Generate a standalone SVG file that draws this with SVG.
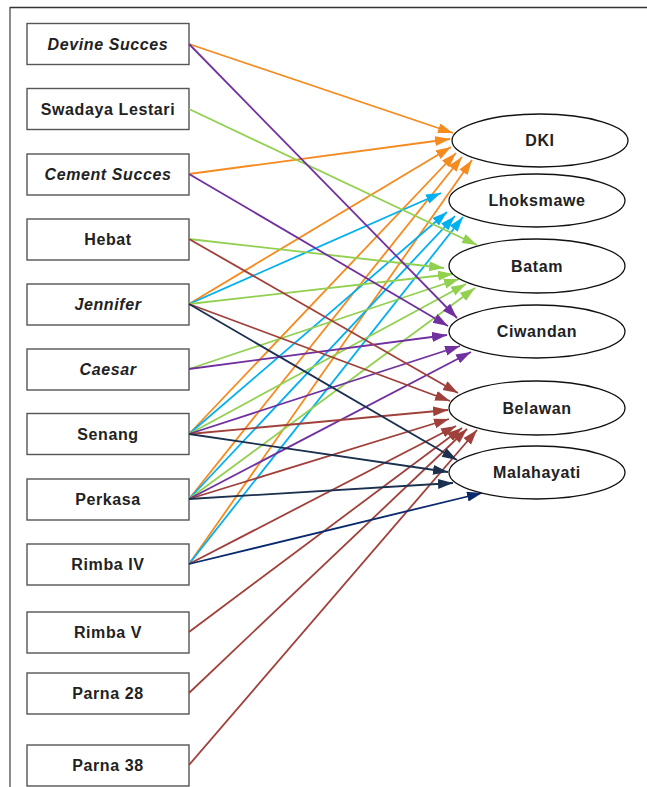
<svg xmlns="http://www.w3.org/2000/svg" width="647" height="787" viewBox="0 0 647 787">
<style>
.box rect{fill:#fff;stroke:#555;stroke-width:1.4}
.lbl{font-family:"Liberation Sans",Arial,sans-serif;font-weight:bold;font-size:16px;letter-spacing:0.6px;fill:#222;text-anchor:middle}
.it{font-style:italic}
.port ellipse{fill:#fff;stroke:#111;stroke-width:1.3}
#connectors line{stroke-width:1.8;fill:none}
.o{stroke:#F58A1F;marker-end:url(#mo)}
.g{stroke:#92D050;marker-end:url(#mg)}
.p{stroke:#7030A0;marker-end:url(#mp)}
.c{stroke:#00B0F0;marker-end:url(#mc)}
.b{stroke:#A0403A;marker-end:url(#mb)}
.n{stroke:#1B2F4F;marker-end:url(#mn)}
.d{stroke:#0A2A6E;marker-end:url(#md)}
</style>
<defs>
<marker id="mo" markerUnits="userSpaceOnUse" markerWidth="16" markerHeight="11" refX="15" refY="5" orient="auto"><path d="M0,0 L15,5 L0,10 z" fill="#F58A1F"/></marker>
<marker id="mg" markerUnits="userSpaceOnUse" markerWidth="16" markerHeight="11" refX="15" refY="5" orient="auto"><path d="M0,0 L15,5 L0,10 z" fill="#92D050"/></marker>
<marker id="mp" markerUnits="userSpaceOnUse" markerWidth="16" markerHeight="11" refX="15" refY="5" orient="auto"><path d="M0,0 L15,5 L0,10 z" fill="#7030A0"/></marker>
<marker id="mc" markerUnits="userSpaceOnUse" markerWidth="16" markerHeight="11" refX="15" refY="5" orient="auto"><path d="M0,0 L15,5 L0,10 z" fill="#00B0F0"/></marker>
<marker id="mb" markerUnits="userSpaceOnUse" markerWidth="16" markerHeight="11" refX="15" refY="5" orient="auto"><path d="M0,0 L15,5 L0,10 z" fill="#A0403A"/></marker>
<marker id="mn" markerUnits="userSpaceOnUse" markerWidth="16" markerHeight="11" refX="15" refY="5" orient="auto"><path d="M0,0 L15,5 L0,10 z" fill="#1B2F4F"/></marker>
<marker id="md" markerUnits="userSpaceOnUse" markerWidth="16" markerHeight="11" refX="15" refY="5" orient="auto"><path d="M0,0 L15,5 L0,10 z" fill="#0A2A6E"/></marker>
</defs>
<rect width="647" height="787" fill="#fff"/>
<line x1="10" y1="7" x2="10" y2="787" stroke="#8a8a8a" stroke-width="2"/>
<line x1="10" y1="7.5" x2="647" y2="7.5" stroke="#333" stroke-width="1.4"/>

<g id="n-devine" class="box"><rect x="27" y="23.5" width="162" height="41"/><text class="lbl it" x="108" y="49.5">Devine Succes</text></g>
<g id="n-swadaya" class="box"><rect x="27" y="88.5" width="162" height="41"/><text class="lbl" x="108" y="114.5">Swadaya Lestari</text></g>
<g id="n-cement" class="box"><rect x="27" y="154" width="162" height="41"/><text class="lbl it" x="108" y="180">Cement Succes</text></g>
<g id="n-hebat" class="box"><rect x="27" y="219" width="162" height="41"/><text class="lbl" x="108" y="245">Hebat</text></g>
<g id="n-jennifer" class="box"><rect x="27" y="284" width="162" height="41"/><text class="lbl it" x="108" y="310">Jennifer</text></g>
<g id="n-caesar" class="box"><rect x="27" y="349" width="162" height="41"/><text class="lbl it" x="108" y="375">Caesar</text></g>
<g id="n-senang" class="box"><rect x="27" y="413.5" width="162" height="41"/><text class="lbl" x="108" y="439.5">Senang</text></g>
<g id="n-perkasa" class="box"><rect x="27" y="479" width="162" height="41"/><text class="lbl" x="108" y="505">Perkasa</text></g>
<g id="n-rimba4" class="box"><rect x="27" y="544" width="162" height="41"/><text class="lbl" x="108" y="570">Rimba IV</text></g>
<g id="n-rimba5" class="box"><rect x="27" y="612" width="162" height="41"/><text class="lbl" x="108" y="638">Rimba V</text></g>
<g id="n-parna28" class="box"><rect x="27" y="673" width="162" height="41"/><text class="lbl" x="108" y="699">Parna 28</text></g>
<g id="n-parna38" class="box"><rect x="27" y="745" width="162" height="41"/><text class="lbl" x="108" y="771">Parna 38</text></g>

<g id="connectors">
<line class="o" x1="189" y1="44" x2="453" y2="133"/>
<line class="o" x1="189" y1="174" x2="450" y2="139"/>
<line class="o" x1="189" y1="304" x2="451" y2="147"/>
<line class="o" x1="189" y1="434" x2="456" y2="153"/>
<line class="o" x1="189" y1="499" x2="462" y2="157"/>
<line class="o" x1="189" y1="564" x2="472" y2="160"/>

<line class="c" x1="189" y1="304" x2="441" y2="193"/>
<line class="c" x1="189" y1="434" x2="447" y2="212"/>
<line class="c" x1="189" y1="499" x2="455" y2="216"/>
<line class="c" x1="189" y1="564" x2="463" y2="217"/>

<line class="g" x1="189" y1="109" x2="477" y2="245"/>
<line class="g" x1="189" y1="239" x2="444" y2="268"/>
<line class="g" x1="189" y1="304" x2="453" y2="274"/>
<line class="g" x1="189" y1="369" x2="459" y2="279"/>
<line class="g" x1="189" y1="434" x2="466" y2="284"/>
<line class="g" x1="189" y1="499" x2="475" y2="288"/>

<line class="p" x1="189" y1="44" x2="457" y2="318"/>
<line class="p" x1="189" y1="174" x2="448" y2="326"/>
<line class="p" x1="189" y1="369" x2="447" y2="335"/>
<line class="p" x1="189" y1="434" x2="460" y2="346"/>
<line class="p" x1="189" y1="499" x2="471" y2="352"/>

<line class="b" x1="189" y1="239" x2="458" y2="393"/>
<line class="b" x1="189" y1="304" x2="450" y2="401"/>
<line class="b" x1="189" y1="434" x2="448" y2="410"/>
<line class="b" x1="189" y1="499" x2="449" y2="419"/>
<line class="b" x1="189" y1="564" x2="456" y2="426"/>
<line class="b" x1="189" y1="632" x2="462" y2="428"/>
<line class="b" x1="189" y1="693" x2="467" y2="429"/>
<line class="b" x1="189" y1="765" x2="477" y2="430"/>

<line class="n" x1="189" y1="304" x2="457" y2="460"/>
<line class="n" x1="189" y1="434" x2="448" y2="472"/>
<line class="n" x1="189" y1="499" x2="453" y2="483"/>
<line class="d" x1="189" y1="564" x2="482" y2="493"/>
</g>

<g id="p-dki" class="port"><ellipse cx="540" cy="140.5" rx="88" ry="26.5"/><text class="lbl" x="540" y="146">DKI</text></g>
<g id="p-lhok" class="port"><ellipse cx="537" cy="200.5" rx="88" ry="26.5"/><text class="lbl" x="537" y="206">Lhoksmawe</text></g>
<g id="p-batam" class="port"><ellipse cx="537" cy="266" rx="88" ry="27"/><text class="lbl" x="537" y="271.5">Batam</text></g>
<g id="p-ciwandan" class="port"><ellipse cx="537" cy="331.5" rx="88" ry="26.5"/><text class="lbl" x="537" y="337">Ciwandan</text></g>
<g id="p-belawan" class="port"><ellipse cx="537" cy="408" rx="88" ry="27"/><text class="lbl" x="537" y="413.5">Belawan</text></g>
<g id="p-malahayati" class="port"><ellipse cx="537" cy="472.5" rx="88" ry="26.5"/><text class="lbl" x="537" y="478">Malahayati</text></g>
</svg>
